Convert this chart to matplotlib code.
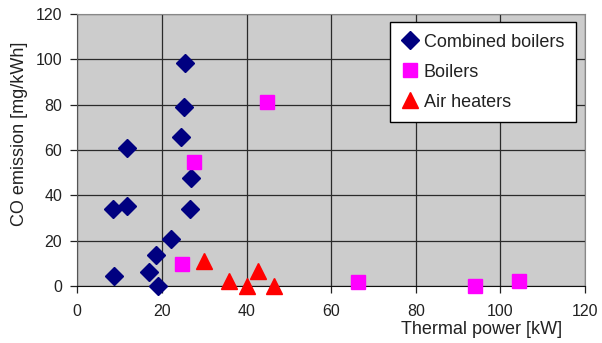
import matplotlib
matplotlib.use("Agg")
import matplotlib.pyplot as plt

plt.rcParams['font.family'] = ['Liberation Sans', 'DejaVu Sans']

combined_x = [25.4, 25.2, 24.4, 11.8, 26.8, 8.5, 11.7, 26.7, 22.1, 18.7, 16.9, 8.7, 19.0]
combined_y = [98.2, 78.8, 65.6, 60.7, 47.5, 33.8, 35.4, 34.1, 20.7, 13.5, 6.3, 4.4, 0.0]

boilers_x = [44.9, 27.6, 24.8, 66.3, 94.0, 104.5]
boilers_y = [81.3, 54.8, 9.7, 1.9, 0.0, 2.2]

air_x = [29.9, 35.9, 40.1, 42.7, 46.4]
air_y = [11.0, 2.4, 0.0, 6.5, 0.0]

x_ticks = [0, 20, 40, 60, 80, 100, 120]
y_ticks = [0, 20, 40, 60, 80, 100, 120]

fig = plt.figure(figsize=(6.02, 3.43), dpi=100)
ax = fig.add_axes([77.3/602, 1-286/343, (585-77.3)/602, (286-14)/343])
ax.set_facecolor('#cccccc')
ax.set_xlim(0, 120)
ax.set_ylim(0, 120)
ax.set_xticks(x_ticks)
ax.set_yticks(y_ticks)
ax.grid(True, color='#2a2a2a', linewidth=0.9)
ax.set_axisbelow(True)
for s in ['top', 'right']:
    ax.spines[s].set_color('#888888')
ax.spines['left'].set_color('#555555')
ax.spines['bottom'].set_color('#111111')
ax.tick_params(direction='out', length=5, width=0.9, colors='#222222', labelsize=11.5)
ax.tick_params(axis='x', pad=8)
ax.tick_params(axis='y', pad=6)

ax.plot(combined_x, combined_y, linestyle='none', marker='D', markersize=9,
        color='#000080', label='Combined boilers', clip_on=False, zorder=3)
ax.plot(boilers_x, boilers_y, linestyle='none', marker='s', markersize=10,
        color='#ff00ff', label='Boilers', clip_on=False, zorder=3)
ax.plot(air_x, air_y, linestyle='none', marker='^', markersize=11,
        color='#ff0000', label='Air heaters', clip_on=False, zorder=3)

leg = ax.legend(loc='upper right', bbox_to_anchor=((576-77.3)/(585-77.3), (286-22)/(286-14)),
                fontsize=13, frameon=True, fancybox=False, edgecolor='black',
                framealpha=1, borderpad=0.65, handletextpad=0.25, labelspacing=0.72,
                handlelength=1.0, borderaxespad=0)
leg.get_frame().set_linewidth(1.0)
for t in leg.get_texts():
    t.set_color('#222222')

fig.text(482/602, 1-329/343, 'Thermal power [kW]', ha='center', va='center',
         fontsize=13, color='#222222')
fig.text(20/602, 1-134/343, 'CO emission [mg/kWh]', ha='center', va='center',
         rotation=90, fontsize=13, color='#222222')

fig.savefig('out.png', dpi=100)
